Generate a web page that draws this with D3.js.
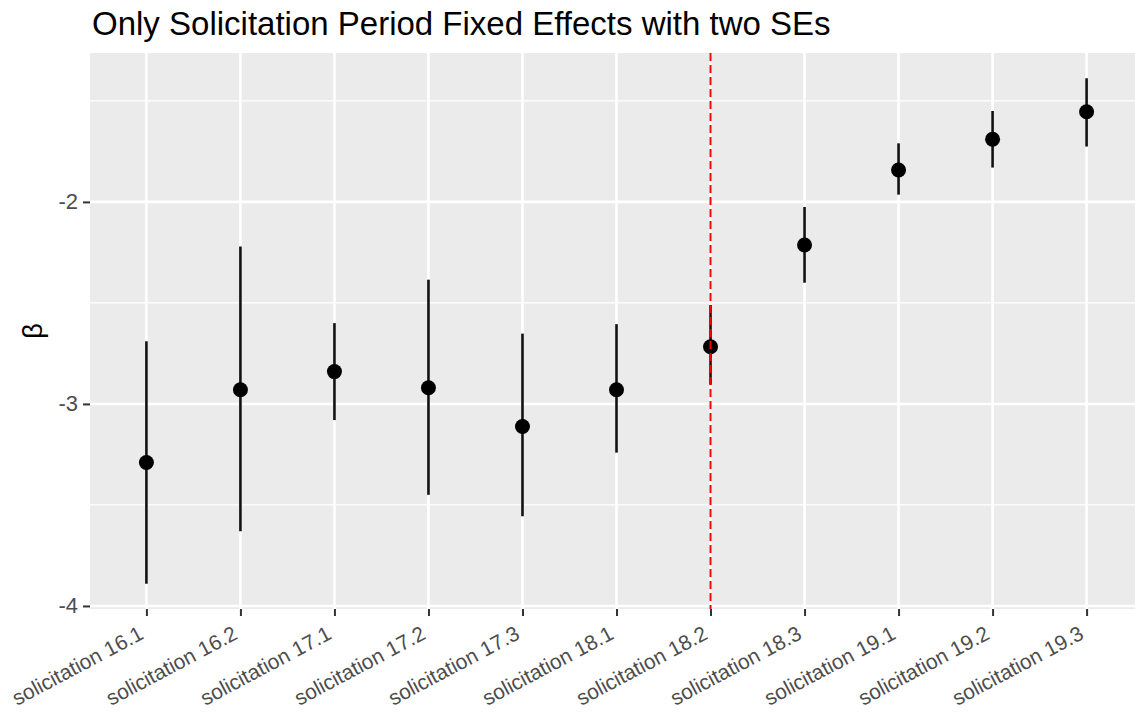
<!DOCTYPE html>
<html>
<head>
<meta charset="utf-8">
<script src="https://cdn.jsdelivr.net/npm/d3@7"></script>
<style>
  body { margin: 0; background: #fff; }
  svg { display: block; font-family: "Liberation Sans", Arial, sans-serif; }
</style>
</head>
<body>
<div id="chart"></div>
<script>
// periods and coefficient estimates with +/- 2 SE bounds
var periods = ['solicitation 16.1', 'solicitation 16.2', 'solicitation 17.1', 'solicitation 17.2',
               'solicitation 17.3', 'solicitation 18.1', 'solicitation 18.2', 'solicitation 18.3',
               'solicitation 19.1', 'solicitation 19.2', 'solicitation 19.3'];
var estimates = [-3.29, -2.93, -2.84, -2.92, -3.112, -2.93, -2.717, -2.213, -1.842, -1.69, -1.554];
var lowers    = [-3.89, -3.63, -3.08, -3.45, -3.556, -3.241, -2.905, -2.40, -1.964, -1.83, -1.726];
var uppers    = [-2.69, -2.221, -2.60, -2.385, -2.652, -2.605, -2.51, -2.025, -1.71, -1.55, -1.388];
var cutoff = 'solicitation 18.2';
var majorTicks = [-4, -3, -2];
var minorTicks = [-3.5, -2.5, -1.5];

var width = 1135, height = 713;
var panel = { left: 90, right: 1143, top: 53, bottom: 609 };

var rows = periods.map(function(p, i) {
    return { period: p, est: estimates[i], lo: lowers[i], hi: uppers[i] };
});

var svg = d3.select('#chart').append('svg')
    .attr('width', width)
    .attr('height', height);

var x = d3.scalePoint()
    .domain(periods)
    .range([panel.left, panel.right])
    .padding(0.6);

// ggplot style 5% expansion
var yMin = d3.min(lowers), yMax = d3.max(uppers);
var pad = (yMax - yMin) * 0.05;
var y = d3.scaleLinear()
    .domain([yMin - pad, yMax + pad])
    .range([panel.bottom, panel.top]);

// panel background
svg.append('rect')
    .attr('x', panel.left)
    .attr('y', panel.top)
    .attr('width', panel.right - panel.left)
    .attr('height', panel.bottom - panel.top)
    .attr('fill', '#EBEBEB');

var grid = svg.append('g');
grid.selectAll('line.minor')
    .data(minorTicks)
    .enter().append('line')
    .attr('x1', panel.left).attr('x2', panel.right)
    .attr('y1', function(d) { return y(d); })
    .attr('y2', function(d) { return y(d); })
    .attr('stroke', '#fff')
    .attr('stroke-width', 1.3);
grid.selectAll('line.major-y')
    .data(majorTicks)
    .enter().append('line')
    .attr('x1', panel.left).attr('x2', panel.right)
    .attr('y1', function(d) { return y(d); })
    .attr('y2', function(d) { return y(d); })
    .attr('stroke', '#fff')
    .attr('stroke-width', 2.6);
grid.selectAll('line.major-x')
    .data(periods)
    .enter().append('line')
    .attr('x1', function(d) { return x(d); })
    .attr('x2', function(d) { return x(d); })
    .attr('y1', panel.top).attr('y2', panel.bottom)
    .attr('stroke', '#fff')
    .attr('stroke-width', 2.6);

// error bars
svg.append('g').selectAll('line')
    .data(rows)
    .enter().append('line')
    .attr('x1', function(d) { return x(d.period); })
    .attr('x2', function(d) { return x(d.period); })
    .attr('y1', function(d) { return y(d.lo); })
    .attr('y2', function(d) { return y(d.hi); })
    .attr('stroke', '#111')
    .attr('stroke-width', 2.6);

// points
svg.append('g').selectAll('circle')
    .data(rows)
    .enter().append('circle')
    .attr('cx', function(d) { return x(d.period); })
    .attr('cy', function(d) { return y(d.est); })
    .attr('r', 7.5)
    .attr('fill', '#000');

// cutoff line
svg.append('line')
    .attr('x1', x(cutoff)).attr('x2', x(cutoff))
    .attr('y1', panel.top).attr('y2', panel.bottom)
    .attr('stroke', '#FF0000')
    .attr('stroke-width', 2)
    .attr('stroke-dasharray', '8,4');

// y axis
var yAxis = d3.axisLeft(y)
    .tickValues(majorTicks)
    .tickSize(7)
    .tickPadding(5)
    .tickFormat(function(d) { return String(d); });
var yg = svg.append('g')
    .attr('transform', 'translate(' + panel.left + ',0)')
    .call(yAxis);
yg.select('.domain').remove();
yg.selectAll('line').attr('stroke', '#333').attr('stroke-width', 2);
yg.selectAll('text')
    .attr('fill', '#4D4D4D')
    .style('font-size', '22px')
    .style('font-family', '"Liberation Sans", Arial, sans-serif');

// x axis
var xAxis = d3.axisBottom(x).tickSize(7).tickPadding(0);
var xg = svg.append('g')
    .attr('transform', 'translate(0,' + panel.bottom + ')')
    .call(xAxis);
xg.select('.domain').remove();
xg.selectAll('line').attr('stroke', '#333').attr('stroke-width', 2);
xg.selectAll('text')
    .attr('fill', '#4D4D4D')
    .attr('text-anchor', 'end')
    .attr('y', 0)
    .attr('dy', 0)
    .attr('transform', 'translate(-2,29) rotate(-28)')
    .style('font-size', '21px')
    .style('font-family', '"Liberation Sans", Arial, sans-serif');

// axis title
svg.append('text')
    .attr('transform', 'translate(42,' + ((panel.top + panel.bottom) / 2) + ') rotate(-90)')
    .attr('text-anchor', 'middle')
    .style('font-size', '27px')
    .attr('fill', '#000')
    .text('β');

// title
svg.append('text')
    .attr('x', 92)
    .attr('y', 35)
    .style('font-size', '33px')
    .attr('fill', '#000')
    .text('Only Solicitation Period Fixed Effects with two SEs');
</script>
</body>
</html>
